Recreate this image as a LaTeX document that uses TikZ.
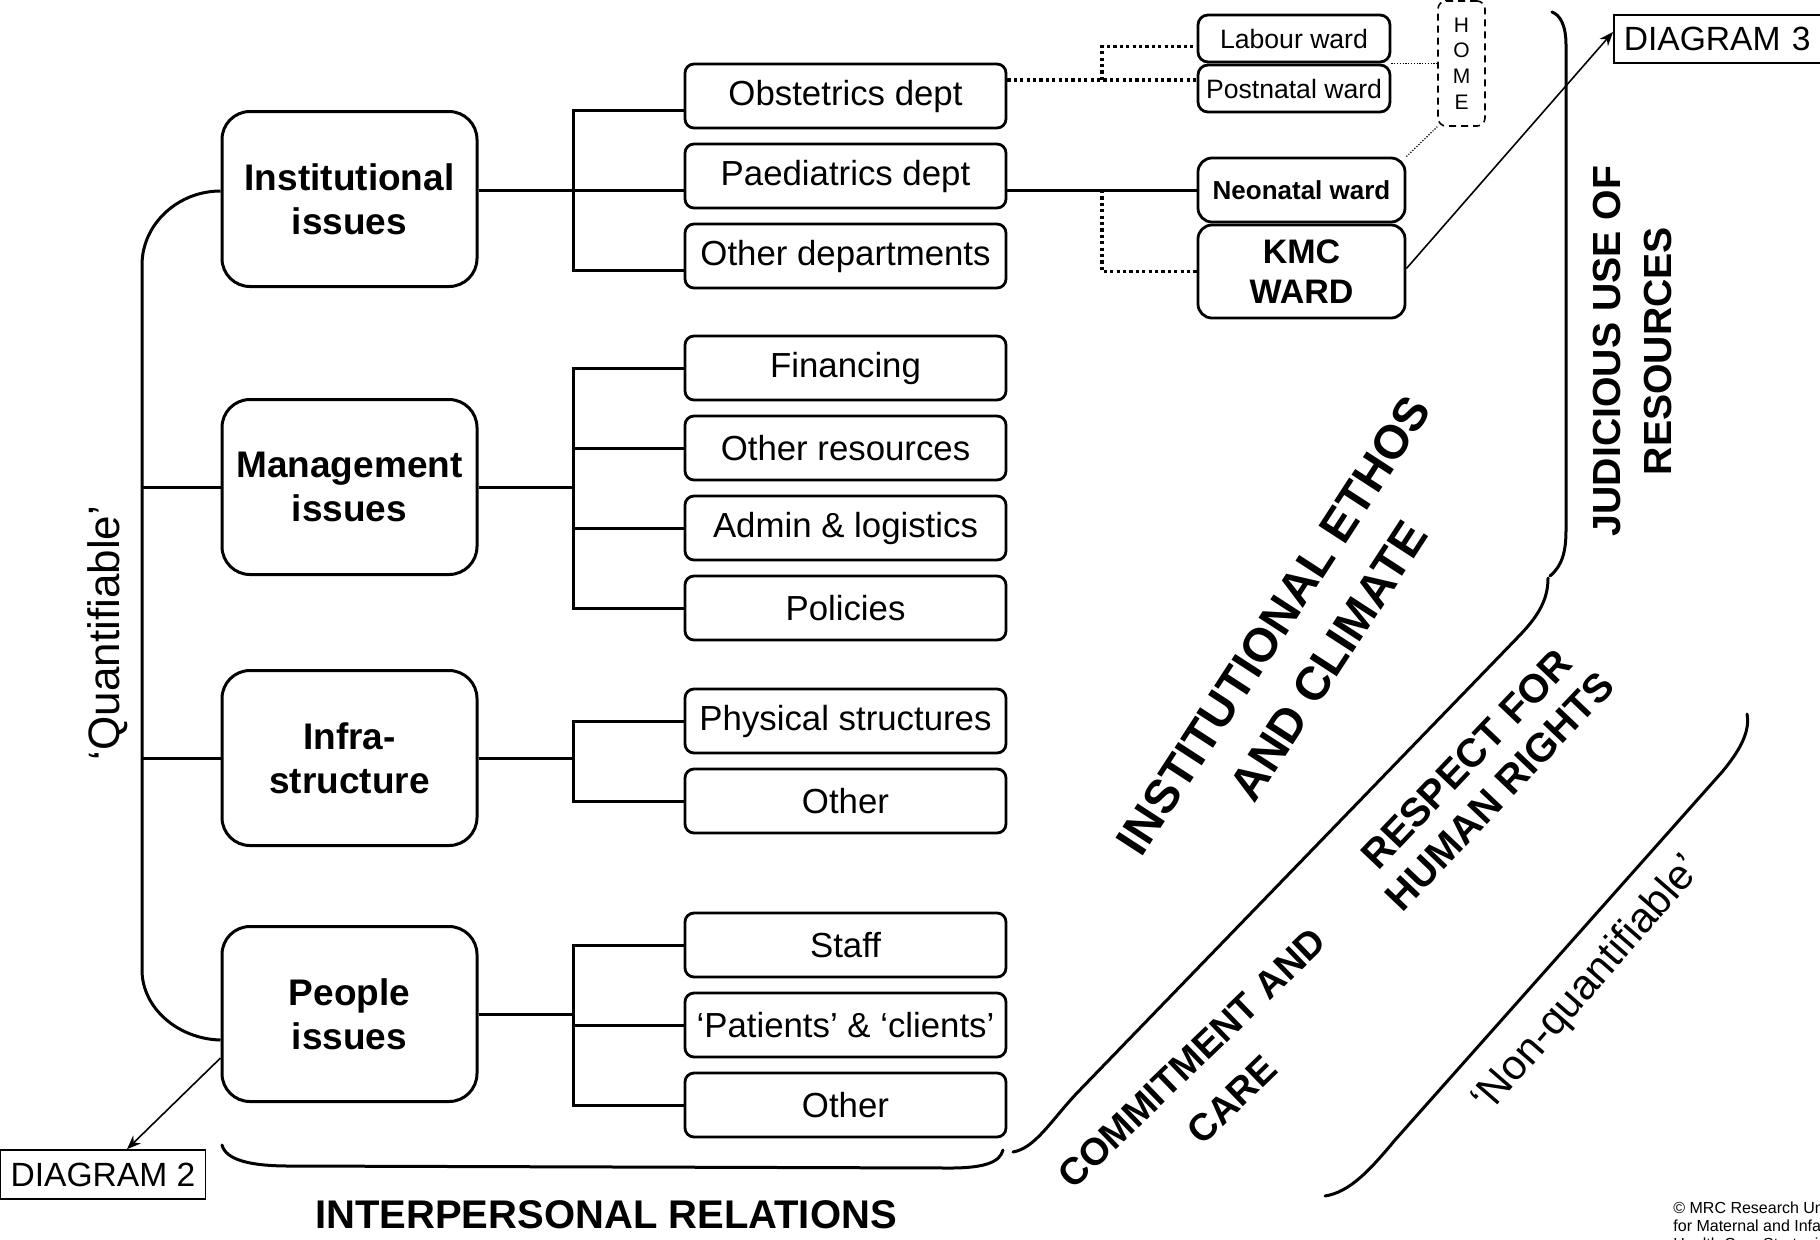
\documentclass[tikz,border=0pt]{standalone}
\usepackage{fontspec}
\setmainfont{Liberation Sans}
\usetikzlibrary{arrows.meta}

\tikzset{
  issue/.style={draw, line width=1.5pt, rounded corners=14pt, minimum width=127.5pt,
    minimum height=87.5pt, align=center, font=\bfseries\fontsize{18.5}{22}\selectfont},
  topic/.style={draw, line width=1.4pt, rounded corners=4.5pt, minimum width=160.5pt,
    minimum height=32pt, inner sep=1pt, font=\fontsize{17.4}{20}\selectfont},
  ward/.style={draw, line width=1.4pt, rounded corners=5pt, minimum width=96pt,
    minimum height=23.5pt, inner sep=1pt, font=\fontsize{13.3}{15}\selectfont},
  unitbox/.style={draw, line width=1.4pt, rounded corners=7pt, minimum width=103.5pt,
    align=center, inner sep=1pt},
  diagbox/.style={draw, line width=0.8pt, inner xsep=5pt, minimum height=24pt,
    font=\fontsize{16.8}{19}\selectfont},
  link/.style={line width=1.5pt},
  dotlink/.style={line width=1.8pt, dash pattern=on 1.6pt off 1.6pt},
  faint/.style={line width=0.6pt, dash pattern=on 0.6pt off 0.8pt},
  pointer/.style={line width=0.8pt, -{Stealth[length=7pt,width=5.5pt]}},
  brace/.style={line width=1.5pt, line cap=round},
  theme/.style={align=center, font=\bfseries\fontsize{20}{23}\selectfont},
}

\begin{document}
\begin{tikzpicture}[x=0.5pt,y=-0.5pt]
\useasboundingbox (0,0) rectangle (1820,1239);
\clip (0,0) rectangle (1820,1239);

\node[issue] (inst) at (349.5,199) {Institutional\\issues};
\node[issue] (mgmt) at (349.5,487) {Management\\issues};
\node[issue] (infra) at (349.5,758) {Infra-\\structure};
\node[issue] (ppl) at (349.5,1014) {People\\issues};

\node[topic] (obst) at (845.5,96) {Obstetrics dept};
\node[topic] (paed) at (845.5,176) {Paediatrics dept};
\node[topic] (odept) at (845.5,256) {Other departments};
\node[topic] (fin) at (845.5,368) {Financing};
\node[topic] (ores) at (845.5,448) {Other resources};
\node[topic] (admin) at (845.5,528) {Admin \& logistics};
\node[topic] (pol) at (845.5,608) {Policies};
\node[topic] (phys) at (845.5,721) {Physical structures};
\node[topic] (oinf) at (845.5,801) {Other};
\node[topic] (staff) at (845.5,945) {Staff};
\node[topic] (pat) at (845.5,1025) {‘Patients’ \& ‘clients’};
\node[topic] (oppl) at (845.5,1105) {Other};

\node[ward] (labour) at (1294,38.5) {Labour ward};
\node[ward] (post) at (1294,88.5) {Postnatal ward};
\node[unitbox, minimum height=32pt, font=\bfseries\fontsize{13}{15}\selectfont] (neo) at (1301.5,190) {Neonatal ward};
\node[unitbox, minimum height=46.5pt, font=\bfseries\fontsize{17}{20.3}\selectfont] (kmc) at (1301.5,271.5) {KMC\\WARD};
\node[draw, line width=0.8pt, dash pattern=on 3.5pt off 2.5pt, rounded corners=4pt,
  minimum width=23.5pt, minimum height=62.5pt, inner sep=0pt, align=center,
  font=\fontsize{10.5}{12.8}\selectfont] (home) at (1461.5,63.5) {H\\O\\M\\E};

\node[diagbox, anchor=west, text width=102pt, align=left] (dthree) at (1613,39) {DIAGRAM 3};
\node[diagbox, minimum width=102pt, minimum height=24.5pt] (dtwo) at (103,1174.5) {DIAGRAM 2};

\node[rotate=90, font=\fontsize{22}{26}\selectfont] (quant) at (108,633) {‘Quantifiable’};
\node[rotate=49, font=\fontsize{21}{24}\selectfont] (nonquant) at (1588,985) {‘Non-quantifiable’};
\node[theme, rotate=57, font=\bfseries\fontsize{23.6}{32.7}\selectfont] (ethos) at (1301,643) {INSTITUTIONAL ETHOS\\AND CLIMATE};
\node[theme, rotate=46.4] (rights) at (1483,775) {RESPECT FOR\\HUMAN RIGHTS};
\node[theme, rotate=44, font=\bfseries\fontsize{19}{29}\selectfont] (care) at (1212,1079) {COMMITMENT AND\\CARE};
\node[theme, rotate=90, font=\bfseries\fontsize{19.6}{25.5}\selectfont] (judic) at (1632,351) {JUDICIOUS USE OF\\RESOURCES};
\node[theme] (interp) at (606,1215) {INTERPERSONAL RELATIONS};
\node[anchor=north west, inner sep=0pt, align=left, font=\fontsize{8}{9}\selectfont] (mrc) at (1673,1201) {© MRC Research Unit\\for Maternal and Infant\\Health Care Strategies};

\coordinate (spine) at (142,0);
\coordinate (bus) at (573,0);
\coordinate (wsplit) at (1102,0);

% quantifiable side
\draw[link] ([yshift=4pt]inst.west) .. controls (178,191) and (142,224) .. (142,265)
  -- (142,970) .. controls (142,1008) and (178,1039) .. ([yshift=-13pt]ppl.west);
\draw[link] (mgmt.west) -- (mgmt.west -| spine);
\draw[link] (infra.west) -- (infra.west -| spine);

\coordinate (obstin) at ([yshift=-7pt]obst.west);
\coordinate (paedin) at ([yshift=-7pt]paed.west);
\coordinate (odeptin) at ([yshift=-7pt]odept.west);
\draw[link] (obstin) -| (odeptin -| bus) -- (odeptin);
\draw[link] (inst.east |- paedin) -- (paedin);

\draw[link] (fin.west) -| (pol.west -| bus) -- (pol.west);
\draw[link] (mgmt.east) -- (mgmt.east -| bus);
\draw[link] (ores.west -| bus) -- (ores.west);
\draw[link] (admin.west -| bus) -- (admin.west);

\draw[link] (phys.west) -| (oinf.west -| bus) -- (oinf.west);
\draw[link] (infra.east) -- (infra.east -| bus);

\draw[link] (staff.west) -| (oppl.west -| bus) -- (oppl.west);
\draw[link] (ppl.east) -- (ppl.east -| bus);
\draw[link] (pat.west -| bus) -- (pat.west);

% wards
\coordinate (obstout) at ([yshift=8pt]obst.east);
\coordinate (paedout) at ([yshift=-7pt]paed.east);
\draw[dotlink] (obstout) -- (obstout -| post.west);
\draw[dotlink] (obstout -| wsplit) |- ([yshift=-4pt]labour.west);
\draw[link] (paedout) -- (paedout -| neo.west);
\draw[dotlink] (paedout -| wsplit) |- (kmc.west);
\draw[faint] (labour.south east) -- (labour.south east -| home.west);
\draw[faint] (neo.north east) -- (home.south west);

\draw[pointer] ([yshift=1.5pt]kmc.east) -- ([yshift=3.5pt]dthree.west);
\draw[pointer] ([yshift=-22pt]ppl.west) -- ([xshift=12pt]dtwo.north);

% non-quantifiable side
\draw[brace] (222,1145) .. controls (226,1160) and (250,1166) .. (290,1166)
  -- (950,1168) .. controls (985,1168) and (1000,1162) .. (1003,1150);
\draw[brace] (1013,1152) .. controls (1035,1148) and (1050,1122) .. (1076,1094)
  -- (1520,635) .. controls (1540,614) and (1548,598) .. (1548,578);
\draw[brace] (1550,576) .. controls (1562,566) and (1566,552) .. (1566,530)
  -- (1566,45) .. controls (1566,25) and (1560,15) .. (1552,12);
\draw[brace] (1747,714) .. controls (1750,730) and (1742,748) .. (1722,772)
  -- (1395,1140) .. controls (1370,1170) and (1350,1192) .. (1325,1196);
\end{tikzpicture}
\end{document}
